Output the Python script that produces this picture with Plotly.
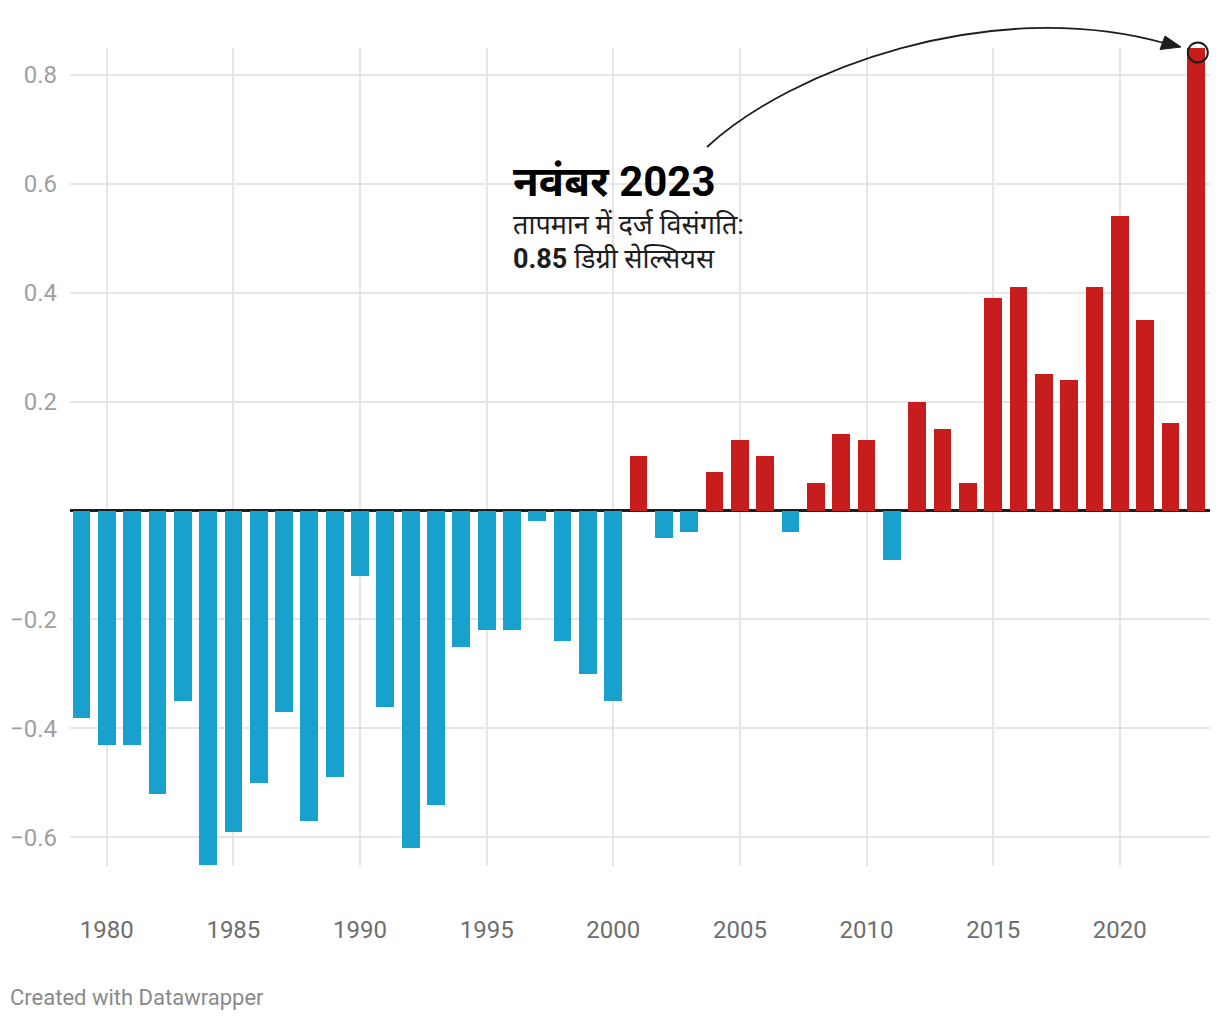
import plotly.graph_objects as go

years = list(range(1979, 2024))
anomaly = [
    -0.38, -0.43, -0.43, -0.52, -0.35, -0.65, -0.59, -0.50, -0.37, -0.57,
    -0.49, -0.12, -0.36, -0.62, -0.54, -0.25, -0.22, -0.22, -0.02, -0.24,
    -0.30, -0.35, 0.10, -0.05, -0.04, 0.07, 0.13, 0.10, -0.04, 0.05,
    0.14, 0.13, -0.09, 0.20, 0.15, 0.05, 0.39, 0.41, 0.25, 0.24,
    0.41, 0.54, 0.35, 0.16, 0.85,
]
x_ticks = [1980, 1985, 1990, 1995, 2000, 2005, 2010, 2015, 2020]
y_ticks = [-0.6, -0.4, -0.2, 0.2, 0.4, 0.6, 0.8]
y_ticktext = ["\u22120.6", "\u22120.4", "\u22120.2", "0.2", "0.4", "0.6", "0.8"]

BLUE = "#18a1cd"
RED = "#c71e1d"
colors = [RED if v > 0 else BLUE for v in anomaly]

W, H = 1220, 1020
ML, MR, MT, MB = 70, 10, 48, 154
PW, PH = W - ML - MR, H - MT - MB
XR = [1978.55, 2023.56]
YR = [-0.6525, 0.849]


def px(xp):
    return (xp - ML) / PW


def py(yp):
    return (H - MB - yp) / PH


def dx(v):
    return (v - XR[0]) / (XR[1] - XR[0])


def dy(v):
    return (v - YR[0]) / (YR[1] - YR[0])


FONT = "Roboto, 'Noto Sans', sans-serif"

fig = go.Figure()
fig.add_trace(go.Bar(
    x=years, y=anomaly, marker=dict(color=colors, line=dict(width=0)),
    width=0.7, hoverinfo="x+y",
))

# curved arrow (paper coordinates from pixel positions)
p0 = (px(707), py(147))
p1 = (px(790), py(70))
p2 = (px(990), py(-5))
p3 = (px(1164), py(43))
path = f"M {p0[0]},{p0[1]} C {p1[0]},{p1[1]} {p2[0]},{p2[1]} {p3[0]},{p3[1]}"
shapes = [
    dict(type="path", path=path, xref="paper", yref="paper",
         line=dict(color="#1d1d1d", width=1.8), layer="above"),
    dict(type="path", xref="paper", yref="paper",
         path=f"M {px(1181)},{py(47)} L {px(1165)},{py(36)} L {px(1160)},{py(49.5)} Z",
         fillcolor="#1d1d1d", line=dict(color="#1d1d1d", width=1), layer="above"),
    dict(type="circle", xref="paper", yref="paper",
         xsizemode="pixel", ysizemode="pixel",
         xanchor=dx(years[-1]), yanchor=dy(anomaly[-1]),
         x0=-8, x1=12, y0=-15, y1=5,
         line=dict(color="#1d1d1d", width=2), layer="above"),
]

annotations = [
    dict(x=px(511), y=py(181), xref="paper", yref="paper", xanchor="left", yanchor="middle",
         text="<b>नवंबर 2023</b>", showarrow=False,
         font=dict(family=FONT, size=42, color="#000000")),
    dict(x=px(511), y=py(225), xref="paper", yref="paper", xanchor="left", yanchor="middle",
         text="तापमान में दर्ज विसंगति:", showarrow=False,
         font=dict(family=FONT, size=27, color="#1d1d1d")),
    dict(x=px(511), y=py(259), xref="paper", yref="paper", xanchor="left", yanchor="middle",
         text="<b>0.85</b> डिग्री सेल्सियस", showarrow=False,
         font=dict(family=FONT, size=27, color="#1d1d1d")),
    dict(x=px(8), y=py(997), xref="paper", yref="paper", xanchor="left", yanchor="middle",
         text="Created with Datawrapper", showarrow=False,
         font=dict(family=FONT, size=22, color="#8a8a8a")),
]

fig.update_layout(
    width=W, height=H,
    margin=dict(l=ML, r=MR, t=MT, b=MB, autoexpand=False),
    plot_bgcolor="white", paper_bgcolor="white",
    showlegend=False, bargap=0,
    shapes=shapes, annotations=annotations,
    font=dict(family=FONT),
    xaxis=dict(
        range=XR, tickvals=x_ticks, ticks="", showline=False, zeroline=False,
        showgrid=True, gridcolor="#e6e6e6", gridwidth=2,
        tickfont=dict(family=FONT, size=24, color="#6e6e6e"),
        ticklabelstandoff=47, fixedrange=True,
    ),
    yaxis=dict(
        range=YR, tickvals=y_ticks, ticktext=y_ticktext, ticks="",
        showline=False, showgrid=True, gridcolor="#e6e6e6", gridwidth=2,
        zeroline=True, zerolinecolor="#1d1d1d", zerolinewidth=2.5,
        tickfont=dict(family=FONT, size=24, color="#a0a0a0"),
        ticklabelstandoff=12, fixedrange=True,
    ),
)

fig.write_html("out.html", config={"displayModeBar": False})
